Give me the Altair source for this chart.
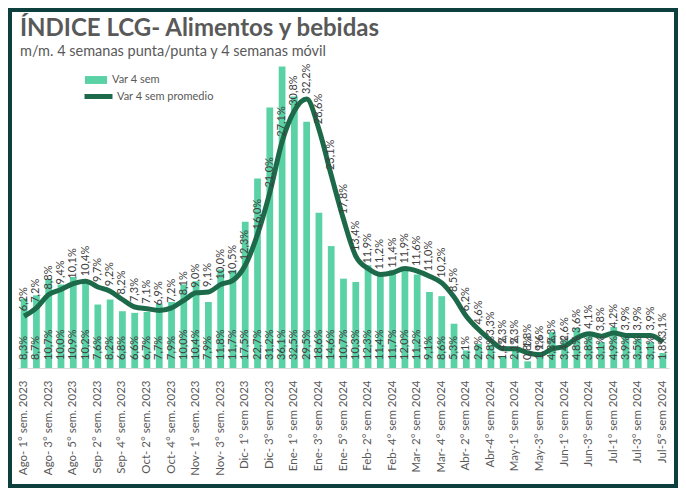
import altair as alt
import pandas as pd

FONT = "Lato"
MINT = "#5AD2A6"
DARK = "#1D6A4A"
FRAME = "#0D3F3C"
GRAY = "#595959"
LBL = "#404040"

def weeks(prefix, n, suffix):
    return [f"{prefix}{i}° {suffix}" for i in range(1, n + 1)]

cats = (
    weeks("Ago- ", 5, "sem. 2023")
    + weeks("Sep- ", 4, "sem. 2023")
    + weeks("Oct- ", 5, "sem. 2023")
    + weeks("Nov- ", 4, "sem. 2023")
    + weeks("Dic- ", 4, "sem 2023")
    + weeks("Ene- ", 5, "sem 2024")
    + weeks("Feb- ", 4, "sem 2024")
    + weeks("Mar- ", 4, "sem 2024")
    + ["Abr- 1° sem 2024", "Abr- 2° sem 2024", "Abr-3° sem 2024", "Abr-4° sem 2024", "Abr-5° sem 2024"]
    + weeks("May-", 4, "sem 2024")
    + weeks("Jun-", 4, "sem 2024")
    + weeks("Jul-", 5, "sem 2024")
)

var_4_sem = [8.3, 8.7, 10.7, 10.0, 10.9, 10.2, 7.6, 8.2, 6.8, 6.6, 6.7, 7.7, 7.9, 10.0, 10.4, 7.9, 11.8, 11.7,
             17.5, 22.7, 31.2, 36.1, 32.5, 29.5, 18.6, 14.6, 10.7, 10.3, 12.3, 11.4, 11.7, 12.0, 11.2, 9.1, 8.6, 5.3,
             2.1, 2.9, 2.8, 1.4, 2.1, 0.8, 1.9, 4.3, 3.4, 4.8, 3.8, 3.1, 4.9, 3.9, 3.5, 3.1, 1.8]

var_4_sem_prom = [6.2, 7.2, 8.8, 9.4, 10.1, 10.4, 9.7, 9.2, 8.2, 7.3, 7.1, 6.9, 7.2, 8.1, 9.0, 9.1, 10.0, 10.5,
                  12.3, 16.0, 21.0, 27.1, 30.8, 32.2, 28.6, 23.1, 17.8, 13.4, 11.9, 11.2, 11.4, 11.9, 11.6, 11.0, 10.2, 8.5,
                  6.2, 4.6, 3.3, 2.3, 2.3, 1.8, 1.6, 2.3, 2.6, 3.6, 4.1, 3.8, 4.2, 3.9, 3.9, 3.9, 3.1]

label_cats = cats[::2]

df = pd.DataFrame({
    "cat": cats,
    "bar": var_4_sem,
    "avg": var_4_sem_prom,
    "s1": "Var 4 sem",
    "s2": "Var 4 sem promedio",
})

W, H = 651, 309

x_enc = alt.X(
    "cat:N", sort=cats, title=None,
    scale=alt.Scale(paddingInner=0.45, paddingOuter=0.225),
    axis=alt.Axis(values=label_cats, labelAngle=270, labelFont=FONT, labelFontSize=11.5,
                  labelColor=GRAY, labelPadding=12, labelOverlap=False, labelLimit=200,
                  ticks=False, domainColor="#D9D9D9", domainWidth=1, grid=False),
)
y_scale = alt.Scale(domain=[0, 37], nice=False)

base = alt.Chart(df)

bars = base.mark_bar().encode(
    x=x_enc,
    y=alt.Y("bar:Q", scale=y_scale, axis=None),
    fill=alt.Fill("s1:N", scale=alt.Scale(domain=["Var 4 sem"], range=[MINT]),
                  legend=alt.Legend(title=None, orient="none", legendX=70, legendY=13,
                                    symbolType="M-1.4,-0.5H1.4V0.5H-1.4Z", symbolSize=250,
                                    symbolStrokeWidth=0, labelFont=FONT, labelFontSize=11,
                                    labelColor=GRAY, labelOffset=8)),
)

line = base.mark_line(strokeWidth=5, interpolate="monotone").encode(
    x=x_enc,
    y=alt.Y("avg:Q", scale=y_scale, axis=None),
    stroke=alt.Stroke("s2:N", scale=alt.Scale(domain=["Var 4 sem promedio"], range=[DARK]),
                      legend=alt.Legend(title=None, orient="none", legendX=64, legendY=21,
                                        symbolType="stroke", symbolSize=784, symbolStrokeWidth=5,
                                        labelFont=FONT, labelFontSize=11, labelColor=GRAY,
                                        labelOffset=2)),
)

line_labels = base.transform_calculate(
    lab="replace(format(datum.avg, '.1f'), '.', ',') + '%'"
).mark_text(angle=270, align="left", baseline="middle", dx=5, font=FONT, fontSize=11, color=LBL).encode(
    x=x_enc,
    y=alt.Y("avg:Q", scale=y_scale, axis=None),
    text="lab:N",
)

bar_labels = base.transform_calculate(
    lab2="replace(format(datum.bar, '.1f'), '.', ',') + '%'"
).mark_text(angle=270, align="left", baseline="middle", dx=8, font=FONT, fontSize=11, color=LBL).encode(
    x=x_enc,
    y=alt.datum(0),
    text="lab2:N",
)

frame = alt.Chart(pd.DataFrame({"f": [0]})).mark_rect(
    fill="transparent", stroke=FRAME, strokeWidth=4
).encode(
    x=alt.value(-8), x2=alt.value(658), y=alt.value(-49), y2=alt.value(427)
)

chart = alt.layer(bars, line, line_labels, bar_labels, frame).resolve_scale(
    y="shared"
).properties(
    width=W, height=H,
    title=alt.Title("ÍNDICE LCG- Alimentos y bebidas",
                    subtitle="m/m. 4 semanas punta/punta y 4 semanas móvil",
                    anchor="start", font=FONT, fontSize=24, fontWeight="bold", color=GRAY,
                    subtitleFont=FONT, subtitleFontSize=14.5, subtitleColor=GRAY,
                    offset=-50, subtitlePadding=4, dx=12),
    autosize=alt.AutoSizeParams(type="none"),
    padding={"left": 10, "top": 51, "right": 9, "bottom": 120},
).configure_view(stroke=None)

chart.save("out.html", embed_options={"renderer": "svg", "actions": False})
